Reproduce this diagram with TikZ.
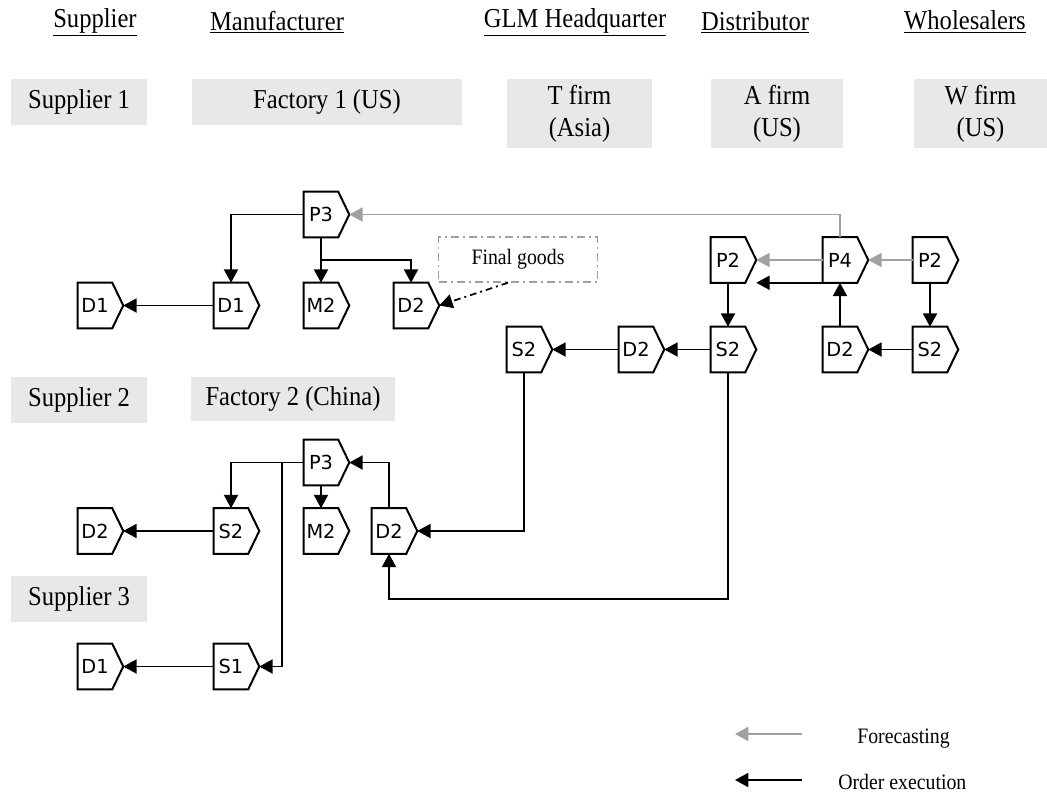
\documentclass[tikz,border=0pt]{standalone}
\usepackage{fontspec}
\setmainfont{Liberation Serif}[FakeStretch=0.9]
\newfontfamily\nodefont{DejaVu Sans}
\usetikzlibrary{arrows.meta,calc}
\definecolor{boxgrey}{HTML}{E8E8E8}
\definecolor{fcgrey}{HTML}{A0A0A0}
\tikzset{
  pentbody/.style={rectangle, minimum width=25.5pt, minimum height=33.75pt, inner sep=0pt,
    font=\nodefont\fontsize{14.5}{17}\selectfont},
  pentline/.style={line width=1.5pt, line join=miter},
  firm/.style={fill=boxgrey, inner sep=0pt, align=center,
    font=\fontsize{20.5}{24}\selectfont},
  head/.style={inner sep=0pt, font=\fontsize{20.5}{24}\selectfont},
  order/.style={line width=1.4pt, -{Triangle[length=10pt,width=10.5pt]}},
  fcast/.style={line width=1.4pt, fcgrey, -{Triangle[length=10pt,width=10.5pt]}},
  small/.style={inner sep=0pt, font=\fontsize{16.5}{19}\selectfont},
}
\newcommand\pentnode[3]{%
  \node[pentbody] (#1) at (#2) {#3};
  \coordinate (#1tip) at ([xshift=8.25pt]#1.east);
  \draw[pentline] (#1.north west) -- (#1.north east) -- (#1tip) -- (#1.south east) -- (#1.south west) -- cycle;}
\begin{document}
\begin{tikzpicture}[x=0.75pt,y=-0.75pt]
\useasboundingbox (0,0) rectangle (1047,793);
% headers
\node[head] (h1) at (95,22) {\underline{Supplier}};
\node[head] (h2) at (277,22) {\underline{Manufacturer}};
\node[head] (h3) at (575,22) {\underline{GLM Headquarter}};
\node[head] (h4) at (755,22) {\underline{Distributor}};
\node[head] (h5) at (965,22) {\underline{Wholesalers}};
% firm boxes
\node[firm, minimum width=102pt, minimum height=34.5pt] (sup1) at (79,102) {Supplier 1};
\node[firm, minimum width=202.5pt, minimum height=34.5pt] (fac1) at (327,102) {Factory 1 (US)};
\node[firm, minimum width=108.75pt, minimum height=51.75pt] (tf) at (579.5,113.5) {T firm\\(Asia)};
\node[firm, minimum width=99pt, minimum height=51.75pt] (af) at (777,113.5) {A firm\\(US)};
\node[firm, minimum width=99.75pt, minimum height=51.75pt] (wf) at (980.5,113.5) {W firm\\(US)};
\node[firm, minimum width=102pt, minimum height=34.5pt] (sup2) at (79,400) {Supplier 2};
\node[firm, minimum width=153pt, minimum height=33pt] (fac2) at (293,399) {Factory 2 (China)};
\node[firm, minimum width=102pt, minimum height=34.5pt] (sup3) at (79,599) {Supplier 3};
% top group
\pentnode{p3a}{321,214.5}{P3}
\pentnode{d1a}{95,305.5}{D1}
\pentnode{d1b}{231,305.5}{D1}
\pentnode{m2a}{321,305.5}{M2}
\pentnode{d2a}{411,305.5}{D2}
% right group
\pentnode{p2d}{728,260}{P2}
\pentnode{p4}{840,260}{P4}
\pentnode{p2w}{930,260}{P2}
\pentnode{s2g}{524,349.5}{S2}
\pentnode{d2g}{636,349.5}{D2}
\pentnode{s2d}{728,349.5}{S2}
\pentnode{d2w}{840,349.5}{D2}
\pentnode{s2w}{930,349.5}{S2}
% lower group
\pentnode{p3b}{321,462.5}{P3}
\pentnode{d2b}{95,531}{D2}
\pentnode{s2b}{231,531}{S2}
\pentnode{m2b}{321,531}{M2}
\pentnode{d2c}{389,531}{D2}
\pentnode{d1c}{95,666.5}{D1}
\pentnode{s1}{231,666.5}{S1}
% final goods
\node[small, draw=fcgrey, line width=1.1pt, dash pattern=on 6pt off 3pt on 1.5pt off 3pt,
  minimum width=119pt, minimum height=33.75pt] (fg) at (518,259.5) {Final goods};
\draw[line width=1.3pt, dash pattern=on 5pt off 3pt on 1.5pt off 3pt, -{Triangle[length=10pt,width=10.5pt]}]
  ([xshift=-7.5pt]fg.south) -- (d2atip);
% top connectors
\coordinate (br1) at (321,260);
\draw[order] (p3a.west) -| (d1b.north);
\draw[order] (p3a.south) -- (m2a.north);
\draw[order] (br1) -| (d2a.north);
\draw[order] (d1b.west) -- (d1atip);
% forecasting
\draw[fcast] (p4.north) |- (p3atip);
\draw[fcast] (p4.west) -- (p2dtip);
\draw[fcast] (p2w.west) -- (p4tip);
% right order execution
\coordinate (blk) at (p2dtip |- p4.south);
\draw[order] (p4.south west) -- (blk);
\draw[order] (p2d.south) -- (s2d.north);
\draw[order] (d2w.north) -- (p4.south);
\draw[order] (p2w.south) -- (s2w.north);
\draw[order] (s2d.west) -- (d2gtip);
\draw[order] (d2g.west) -- (s2gtip);
\draw[order] (s2w.west) -- (d2wtip);
\draw[order] (s2g.south) |- (d2ctip);
\draw[order] (s2d.south) -- ++(0,226.5) -| (d2c.south);
% lower connectors
\draw[order] (d2c.north) |- (p3btip);
\draw[order] (p3b.west) -| (s2b.north);
\draw[order] (p3b.south) -- (m2b.north);
\coordinate (br2) at (282,462.5);
\draw[order] (br2) |- (s1tip);
\draw[order] (s2b.west) -- (d2btip);
\draw[order] (s1.west) -- (d1ctip);
% legend
\coordinate (lg1a) at (802,734);
\coordinate (lg1b) at (735,734);
\coordinate (lg2a) at (802,780);
\coordinate (lg2b) at (735,780);
\draw[fcast] (lg1a) -- (lg1b);
\draw[order] (lg2a) -- (lg2b);
\node[small, anchor=west] (lt1) at (857,739) {Forecasting};
\node[small, anchor=west] (lt2) at (838,782) {Order execution};
\end{tikzpicture}
\end{document}
